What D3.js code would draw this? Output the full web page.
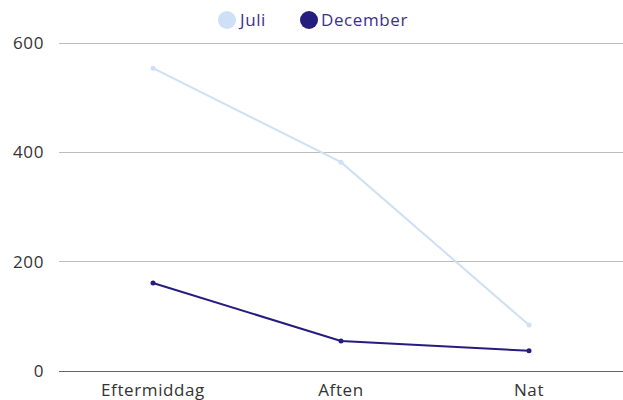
<!DOCTYPE html>
<html><head><meta charset="utf-8">
<script src="https://cdn.jsdelivr.net/npm/d3@7"></script>
<style>body{margin:0;background:#fff;} text{font-family:"Open Sans",Lato,sans-serif;}</style>
</head><body>
<svg id="c" width="623" height="400"></svg>
<script>
const categories = ["Eftermiddag","Aften","Nat"];
const seriesNames = ["Juli","December"];
const juli = [554, 382, 84];
const december = [161, 55, 37];
const yTicks = [0, 200, 400, 600];
const colors = ["#cde0f5", "#241c7e"];

(function(){
const svg = d3.select("#c");
const mLeft = 59, mRight = 623, mTop = 43, mBottom = 371;
const x = d3.scalePoint().domain(categories).range([mLeft, mRight]).padding(0.5);
const y = d3.scaleLinear().domain([0, 600]).range([mBottom, mTop]);

const g = svg.append("g");
g.selectAll("line.grid").data(yTicks).join("line")
  .attr("x1", mLeft).attr("x2", mRight)
  .attr("y1", d => y(d)).attr("y2", d => y(d))
  .attr("stroke", d => d === 0 ? "#666" : "#bdbdbd")
  .attr("stroke-width", 1).attr("shape-rendering","crispEdges");
g.selectAll("text.yl").data(yTicks).join("text")
  .attr("x", 44).attr("y", d => y(d)).attr("dy","0.35em")
  .attr("text-anchor","end").attr("font-size",17).attr("fill","#333")
  .attr("letter-spacing", 0.6)
  .text(d => d);
g.selectAll("text.xl").data(categories).join("text")
  .attr("x", d => x(d)).attr("y", 396)
  .attr("text-anchor","middle").attr("font-size",17).attr("fill","#333")
  .attr("letter-spacing", 0.6)
  .text(d => d);

const line = d3.line().x((d,i) => x(categories[i])).y(d => y(d));
[juli, december].forEach((vals, si) => {
  svg.append("path").datum(vals).attr("d", line)
    .attr("fill","none").attr("stroke", colors[si]).attr("stroke-width", 2);
  svg.append("g").selectAll("circle").data(vals).join("circle")
    .attr("cx",(d,i)=>x(categories[i])).attr("cy", d=>y(d)).attr("r",2.5)
    .attr("fill", colors[si]);
});

const leg = [{n: seriesNames[0], cx: 227, tx: 240}, {n: seriesNames[1], cx: 309, tx: 321}];
leg.forEach((l, i) => {
  svg.append("circle").attr("cx", l.cx).attr("cy", 20).attr("r", 9).attr("fill", colors[i]);
  svg.append("text").attr("x", l.tx).attr("y", 20).attr("dy","0.35em")
    .attr("font-size",17).attr("fill","#3b2f8f").attr("letter-spacing", 0.6).text(l.n);
});
})();
</script>
</body></html>
